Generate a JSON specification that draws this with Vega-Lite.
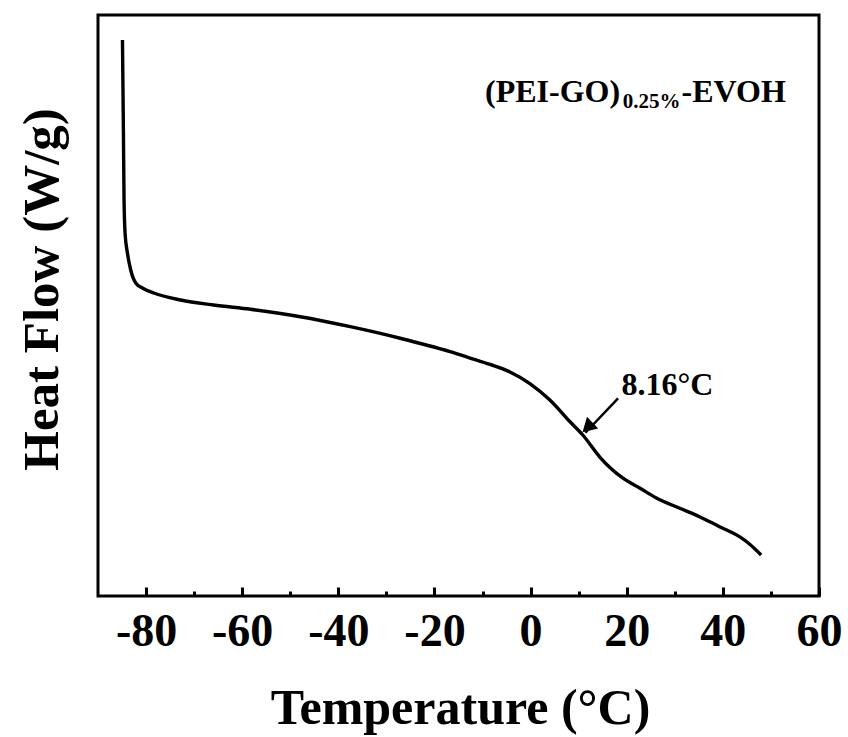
{
  "$schema": "https://vega.github.io/schema/vega-lite/v6.json",
  "width": 721,
  "height": 581,
  "autosize": "none",
  "padding": {"left": 98, "top": 15, "right": 29, "bottom": 141},
  "background": "white",
  "config": {
    "view": {"stroke": "black", "strokeWidth": 3},
    "font": "Liberation Serif"
  },
  "datasets": {
    "curve": [
      {"T": -84.91, "V": 95.70},
      {"T": -84.71, "V": 79.69},
      {"T": -84.58, "V": 68.16},
      {"T": -84.37, "V": 62.48},
      {"T": -83.88, "V": 59.04},
      {"T": -83.19, "V": 56.11},
      {"T": -82.15, "V": 53.87},
      {"T": -80.76, "V": 53.01},
      {"T": -78.41, "V": 52.15},
      {"T": -72.81, "V": 50.95},
      {"T": -65.96, "V": 50.09},
      {"T": -58.28, "V": 49.35},
      {"T": -47.90, "V": 48.07},
      {"T": -37.52, "V": 46.35},
      {"T": -27.14, "V": 44.36},
      {"T": -16.75, "V": 42.05},
      {"T": -12.60, "V": 40.96},
      {"T": -8.45, "V": 39.85},
      {"T": -4.30, "V": 38.56},
      {"T": -0.15, "V": 36.57},
      {"T": 4.01, "V": 33.73},
      {"T": 8.16, "V": 30.03},
      {"T": 10.86, "V": 27.71},
      {"T": 14.39, "V": 23.92},
      {"T": 19.16, "V": 20.31},
      {"T": 22.69, "V": 18.59},
      {"T": 26.16, "V": 16.87},
      {"T": 31.04, "V": 15.10},
      {"T": 35.14, "V": 13.65},
      {"T": 39.30, "V": 11.93},
      {"T": 43.45, "V": 10.21},
      {"T": 45.53, "V": 8.95},
      {"T": 47.96, "V": 7.06}
    ],
    "arrow": [{"T": 18.19, "V": 34.03, "T2": 11.4, "V2": 28.1}],
    "head": [{"T": 11.85, "V": 29.0}],
    "note": [{"T": 18.89, "V": 34.60, "label": "8.16°C"}],
    "mainText": [
      {"T": -9.49, "V": 85.08, "label": "(PEI-GO)"},
      {"T": 31.41, "V": 85.08, "label": "-EVOH"}
    ],
    "subText": [{"T": 19.16, "V": 84.0, "label": "0.25%"}]
  },
  "layer": [
    {
      "data": {"name": "curve"},
      "mark": {"type": "line", "color": "black", "strokeWidth": 3.4, "interpolate": "monotone"},
      "encoding": {
        "x": {
          "field": "T", "type": "quantitative",
          "scale": {"domain": [-90, 60], "nice": false, "zero": false},
          "axis": {
            "values": [-80, -70, -60, -50, -40, -30, -20, -10, 0, 10, 20, 30, 40, 50, 60],
            "labelExpr": "datum.value % 20 === 0 ? toString(datum.value) : ''",
            "domain": false,
            "grid": false,
            "tickColor": "black",
            "tickWidth": 3,
            "tickSize": {"condition": {"test": "datum.value % 20 === 0", "value": -9}, "value": -5},
            "labelFont": "Liberation Serif",
            "labelFontSize": 46,
            "labelFontWeight": "bold",
            "labelColor": "black",
            "labelBaseline": "alphabetic",
            "labelPadding": 58,
            "labelOverlap": false,
            "labelFlush": false,
            "title": "Temperature (°C)",
            "titleFont": "Liberation Serif",
            "titleFontSize": 50,
            "titleFontWeight": "bold",
            "titleColor": "black",
            "titleX": 362,
            "titleY": 127,
            "titleAlign": "center",
            "titleBaseline": "alphabetic"
          }
        },
        "y": {
          "field": "V", "type": "quantitative",
          "scale": {"domain": [0, 100], "nice": false, "zero": false},
          "axis": {
            "domain": false,
            "ticks": false,
            "labels": false,
            "grid": false,
            "title": "Heat Flow (W/g)",
            "titleFont": "Liberation Serif",
            "titleFontSize": 51,
            "titleFontWeight": "bold",
            "titleColor": "black",
            "titleAngle": 270,
            "titleX": -41,
            "titleY": 274,
            "titleAlign": "center",
            "titleBaseline": "alphabetic"
          }
        }
      }
    },
    {
      "data": {"name": "arrow"},
      "mark": {"type": "rule", "color": "black", "strokeWidth": 2.5},
      "encoding": {
        "x": {"field": "T", "type": "quantitative"},
        "y": {"field": "V", "type": "quantitative"},
        "x2": {"field": "T2"},
        "y2": {"field": "V2"}
      }
    },
    {
      "data": {"name": "head"},
      "mark": {"type": "point", "shape": "triangle-up", "filled": true, "color": "black", "size": 260, "angle": 226, "opacity": 1},
      "encoding": {
        "x": {"field": "T", "type": "quantitative"},
        "y": {"field": "V", "type": "quantitative"}
      }
    },
    {
      "data": {"name": "note"},
      "mark": {"type": "text", "align": "left", "baseline": "alphabetic", "font": "Liberation Serif", "fontSize": 32, "fontWeight": "bold", "color": "black"},
      "encoding": {
        "x": {"field": "T", "type": "quantitative"},
        "y": {"field": "V", "type": "quantitative"},
        "text": {"field": "label"}
      }
    },
    {
      "data": {"name": "mainText"},
      "mark": {"type": "text", "align": "left", "baseline": "alphabetic", "font": "Liberation Serif", "fontSize": 32, "fontWeight": "bold", "color": "black"},
      "encoding": {
        "x": {"field": "T", "type": "quantitative"},
        "y": {"field": "V", "type": "quantitative"},
        "text": {"field": "label"}
      }
    },
    {
      "data": {"name": "subText"},
      "mark": {"type": "text", "align": "left", "baseline": "alphabetic", "font": "Liberation Serif", "fontSize": 21, "fontWeight": "bold", "color": "black"},
      "encoding": {
        "x": {"field": "T", "type": "quantitative"},
        "y": {"field": "V", "type": "quantitative"},
        "text": {"field": "label"}
      }
    }
  ]
}
